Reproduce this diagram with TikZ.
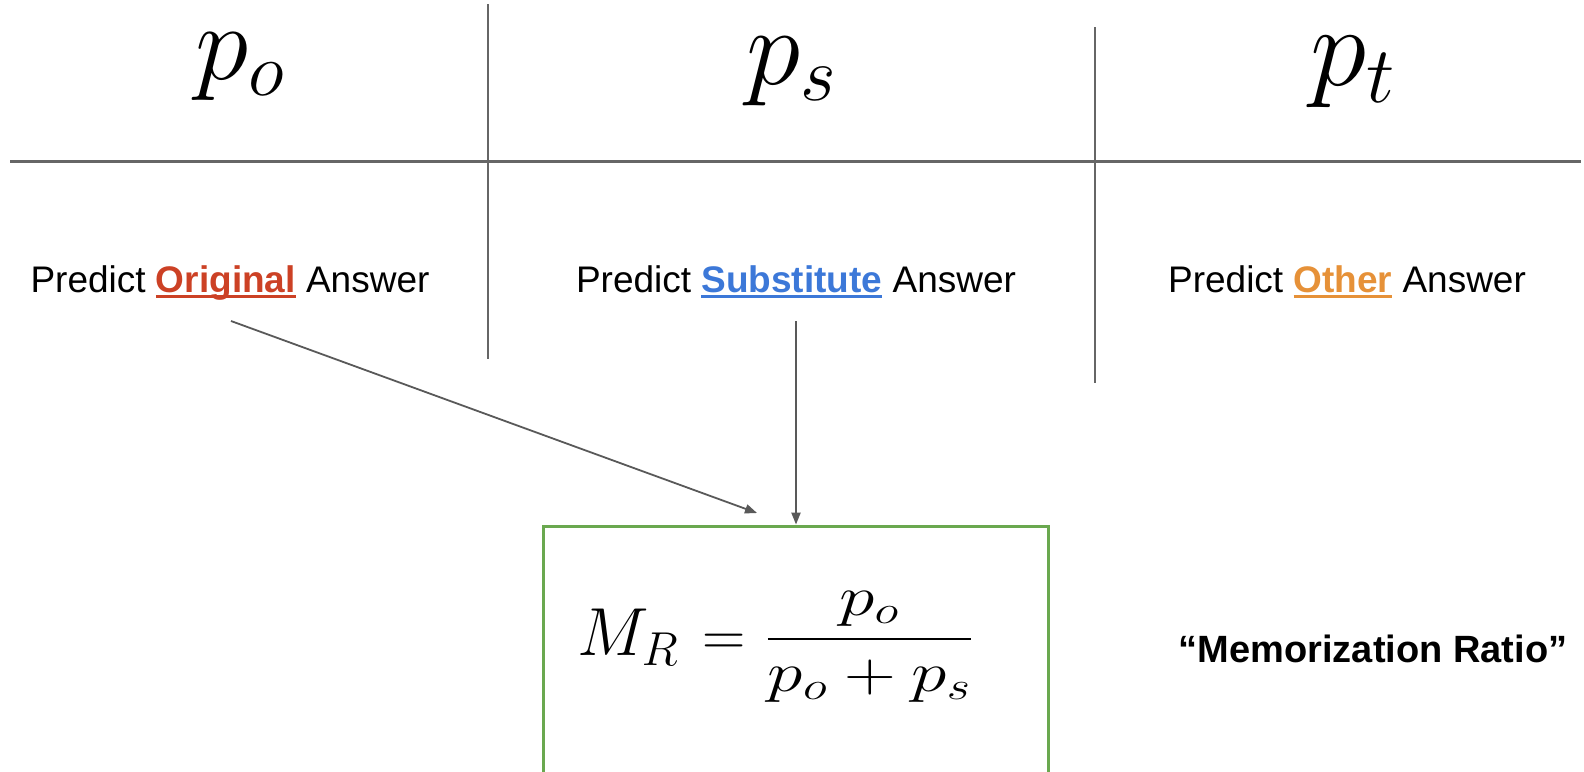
\RequirePackage{fix-cm}
\documentclass[tikz,border=0pt]{standalone}
\usepackage{amsmath}
\usepackage{fontspec}
\usepackage{tikz}
\usetikzlibrary{
  arrows.meta,
  positioning,
  calc
}
\newfontfamily\arialfont{Liberation Sans}
\definecolor{origred}{RGB}{204,65,37}
\definecolor{subblue}{RGB}{60,120,216}
\definecolor{othorange}{RGB}{230,145,56}
\definecolor{ruleg}{RGB}{102,102,102}
\definecolor{arrowg}{RGB}{89,89,89}
\definecolor{boxgreen}{RGB}{106,168,79}
% coloured, underlined bold word
\newcommand{\answord}[2]{\textcolor{#1}{\bfseries\setbox0\hbox{#2}\rlap{\rule[-3pt]{\wd0}{1.5pt}}\box0}}
\tikzset{
  colhead/.style={
    inner sep=0pt, anchor=base,
    font=\fontsize{54}{60}\selectfont
  },
  answer/.style={
    inner sep=0pt, anchor=base,
    font=\arialfont\fontsize{18.5}{22}\selectfont
  },
  tablerule/.style={draw=ruleg, line width=1.5pt},
  colrule/.style={draw=ruleg, line width=1pt},
  arrow/.style={-{Triangle[length=6pt, width=4.6pt]}, draw=arrowg, fill=arrowg, line width=0.9pt},
  ratiobox/.style={
    rectangle, draw=boxgreen, line width=1.5pt,
    minimum width=252.5pt, minimum height=132pt, inner sep=0pt
  }
}

\begin{document}
\begin{tikzpicture}[x=0.5pt, y=-0.5pt]
\useasboundingbox (0,0) rectangle (1584,771);

% Column heads
\node[colhead] (po) at (240,79) {$p_o$};
\node[colhead, font=\fontsize{55}{60}\selectfont] (ps) at (792,84) {$p_s$};
\node[colhead, font=\fontsize{57}{62}\selectfont] (pt) at (1353,85) {$p_t$};

% Table rules
\draw[tablerule] (10,161) -- (1581,161);
\draw[colrule] (488,4) -- (488,359);
\draw[colrule] (1095,27) -- (1095,383);

% Answers
\node[answer] (orig) at (230,292) {Predict \answord{origred}{Original} Answer};
\node[answer] (subst) at (796,292) {Predict \answord{subblue}{Substitute} Answer};
\node[answer] (other) at (1347,292) {Predict \answord{othorange}{Other} Answer};

% Memorization ratio
\node[ratiobox] (mrbox) at (795.5,658) {};
\node[inner sep=0pt, anchor=base west] (mr) at (577,655)
  {\fontsize{34}{40}\selectfont$M_R$\hspace{12pt}{\fontsize{30}{36}\selectfont$=$}\hspace{9.5pt}%
   \raisebox{1pt}{\scalebox{1.28}[1]{\fontsize{28}{34}\selectfont$\displaystyle\frac{p_o}{p_o + p_s}$}}};
\node[answer, font=\arialfont\bfseries\fontsize{19}{22}\selectfont] (mrname) at (1373,662)
  {“Memorization Ratio”};

% Arrows into the ratio
\coordinate (orig-tail) at (231,321);
\coordinate (mr-in) at (757,513);
\coordinate (subst-tail) at (796,321);
\draw[arrow] (orig-tail) -- (mr-in);
\draw[arrow] (subst-tail) -- (subst-tail |- mrbox.north);

\end{tikzpicture}
\end{document}
